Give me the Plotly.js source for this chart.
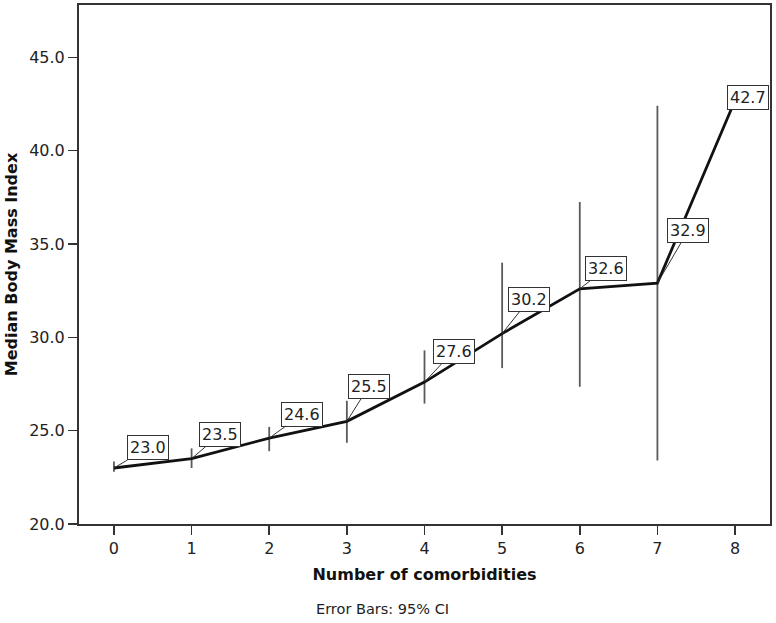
<!DOCTYPE html>
<html>
<head>
<meta charset="utf-8">
<script src="https://cdn.plot.ly/plotly-3.0.1.min.js"></script>
<style>html,body{margin:0;padding:0;background:#fff;}#chart{width:776px;height:623px;}</style>
</head>
<body>
<div id="chart"></div>
<script>
const comorbidities = [0, 1, 2, 3, 4, 5, 6, 7, 8];
const medianBMI = [23.0, 23.5, 24.6, 25.5, 27.6, 30.2, 32.6, 32.9, 42.7];
const ciLower = [22.8, 23.0, 23.9, 24.35, 26.45, 28.35, 27.35, 23.4, null];
const ciUpper = [23.35, 24.05, 25.2, 26.6, 29.3, 34.0, 37.25, 42.4, null];
const labelText = medianBMI.map(v => v.toFixed(1));
const labelOffsetX = [34, 28, 33, 22, 29, 27, 26, 31, 13];
const labelOffsetY = [-20, -24, -24, -35, -31, -34, -20, -53, -3];

const errPlus = medianBMI.map((v, i) => ciUpper[i] == null ? 0 : ciUpper[i] - v);
const errMinus = medianBMI.map((v, i) => ciLower[i] == null ? 0 : v - ciLower[i]);

const font = "DejaVu Sans, Liberation Sans, sans-serif";

const trace = {
  x: comorbidities,
  y: medianBMI,
  type: 'scatter',
  mode: 'lines',
  line: {color: '#111', width: 2.8},
  error_y: {
    type: 'data', symmetric: false,
    array: errPlus, arrayminus: errMinus,
    color: '#5a5a5a', thickness: 1.8, width: 0
  },
  hoverinfo: 'none'
};

const annotations = comorbidities.map((c, i) => ({
  x: c, y: medianBMI[i], xref: 'x', yref: 'y',
  text: labelText[i],
  showarrow: true, arrowhead: 0, arrowwidth: 1, arrowcolor: '#333',
  ax: labelOffsetX[i], ay: labelOffsetY[i],
  bordercolor: '#333', borderwidth: 1, borderpad: 2, bgcolor: '#fff',
  font: {family: font, size: 16, color: '#222'}
}));
annotations.push({
  xref: 'paper', yref: 'paper', x: 0.4385, y: -0.163, xanchor: 'center', yanchor: 'middle',
  text: 'Error Bars: 95% CI', showarrow: false,
  font: {family: font, size: 14.5, color: '#222'}
});

const layout = {
  width: 776, height: 623,
  margin: {l: 79, r: 6, t: 5, b: 99},
  paper_bgcolor: '#fff', plot_bgcolor: '#fff',
  showlegend: false,
  xaxis: {
    range: [-0.45, 8.45],
    tickmode: 'array', tickvals: comorbidities, ticktext: comorbidities.map(String),
    ticks: 'outside', ticklen: 9, tickwidth: 1.5, tickcolor: '#333',
    showline: true, linecolor: '#333', linewidth: 2, mirror: true,
    showgrid: false, zeroline: false,
    tickfont: {family: font, size: 16, color: '#222'},
    title: {text: '<b>Number of comorbidities</b>', font: {family: font, size: 16, color: '#111'}, standoff: 12}
  },
  yaxis: {
    range: [20, 47.8],
    tickmode: 'array', tickvals: [20, 25, 30, 35, 40, 45],
    ticktext: ['20.0', '25.0', '30.0', '35.0', '40.0', '45.0'],
    ticks: 'outside', ticklen: 9, tickwidth: 1.5, tickcolor: '#333',
    showline: true, linecolor: '#333', linewidth: 2, mirror: true,
    showgrid: false, zeroline: false,
    tickfont: {family: font, size: 16, color: '#222'},
    title: {text: '<b>Median Body Mass Index</b>', font: {family: font, size: 16, color: '#111'}, standoff: 8}
  },
  annotations: annotations
};

Plotly.newPlot('chart', [trace], layout, {displayModeBar: false, staticPlot: true});
</script>
</body>
</html>
